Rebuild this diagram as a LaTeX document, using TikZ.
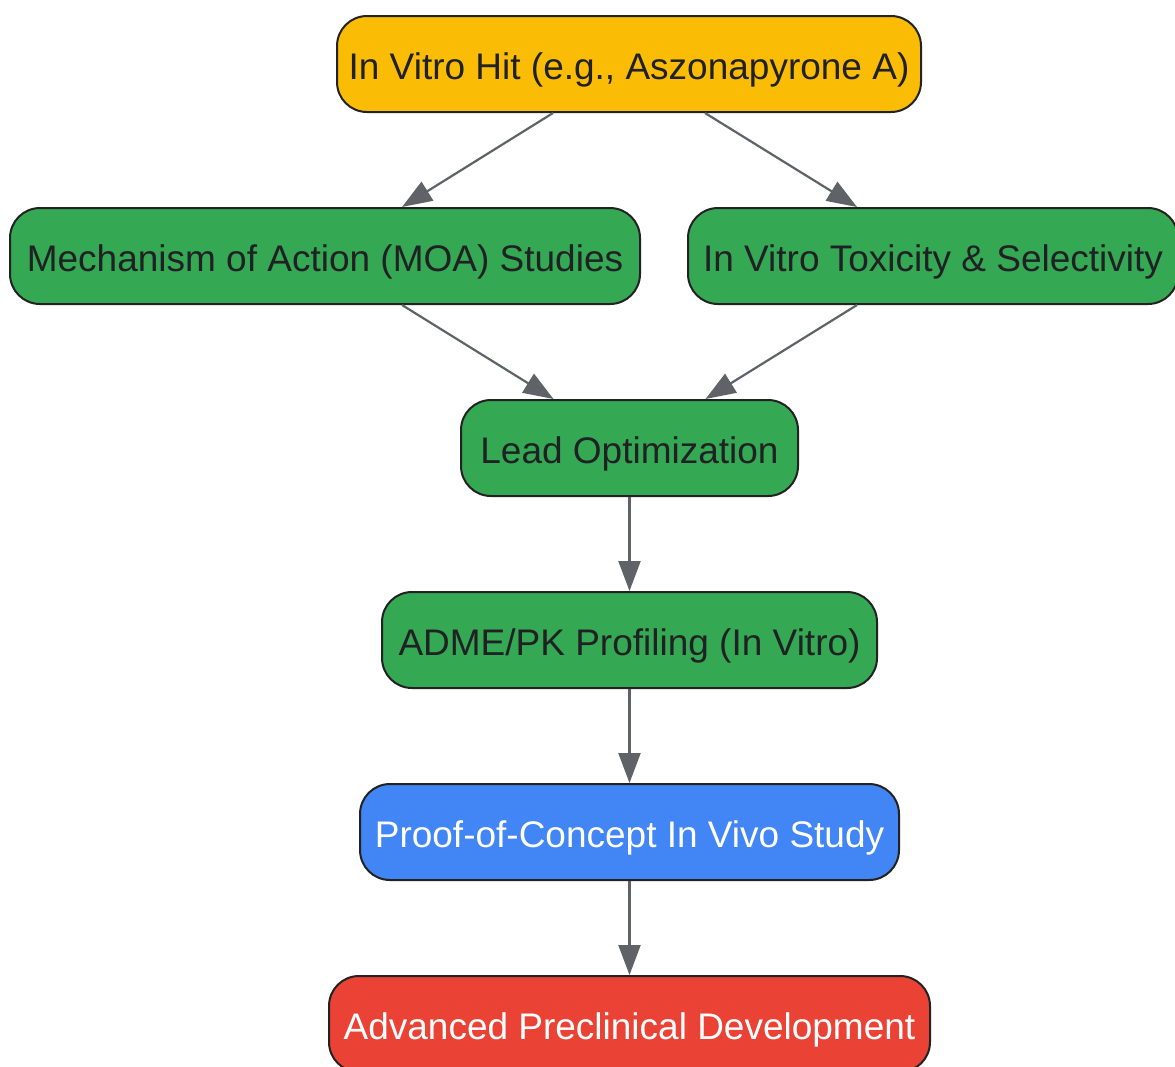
\documentclass[tikz,border=0pt]{standalone}
\usepackage{fontspec}
\setmainfont{Liberation Sans}
\usetikzlibrary{arrows.meta,calc}
\definecolor{cyellow}{HTML}{FBBC05}
\definecolor{cgreen}{HTML}{34A853}
\definecolor{cblue}{HTML}{4285F4}
\definecolor{cred}{HTML}{EA4335}
\definecolor{cedge}{HTML}{5F6368}
\definecolor{cborder}{HTML}{222222}
\definecolor{ctext}{HTML}{202124}
\begin{document}
\begin{tikzpicture}[x=1pt,y=-1pt,
  box/.style={draw=cborder,line width=2pt,rounded corners=30pt,minimum height=96pt,
    inner sep=0pt,text height=30pt,text depth=0pt,font=\fontsize{37}{44}\selectfont,text=ctext},
  conn/.style={draw=cedge,line width=2.2pt,-{Triangle[length=30pt,width=22pt]}}]
\useasboundingbox (0,0) rectangle (1175,1066);
\node[box,fill=cyellow,minimum width=584pt] (hit) at (629,64) {In Vitro Hit (e.g., Aszonapyrone A)};
\node[box,fill=cgreen,minimum width=630pt] (moa) at (325,256) {Mechanism of Action (MOA) Studies};
\node[box,fill=cgreen,minimum width=490pt] (tox) at (933,256) {In Vitro Toxicity \& Selectivity};
\node[box,fill=cgreen,minimum width=337pt] (lead) at (629.5,448) {Lead Optimization};
\node[box,fill=cgreen,minimum width=495pt] (adme) at (629.5,640) {ADME/PK Profiling (In Vitro)};
\node[box,fill=cblue,minimum width=539pt,text=white] (poc) at (629.5,832) {Proof-of-Concept In Vivo Study};
\node[box,fill=cred,minimum width=601pt,text=white] (adv) at (629.5,1024) {Advanced Preclinical Development};
\draw[conn] ([xshift=-76pt]hit.south) -- ([xshift=77pt]moa.north);
\draw[conn] ([xshift=76pt]hit.south) -- ([xshift=-76pt]tox.north);
\draw[conn] ([xshift=77pt]moa.south) -- ([xshift=-76pt]lead.north);
\draw[conn] ([xshift=-76pt]tox.south) -- ([xshift=76pt]lead.north);
\draw[conn] (lead.south) -- (adme.north);
\draw[conn] (adme.south) -- (poc.north);
\draw[conn] (poc.south) -- (adv.north);
\end{tikzpicture}
\end{document}
